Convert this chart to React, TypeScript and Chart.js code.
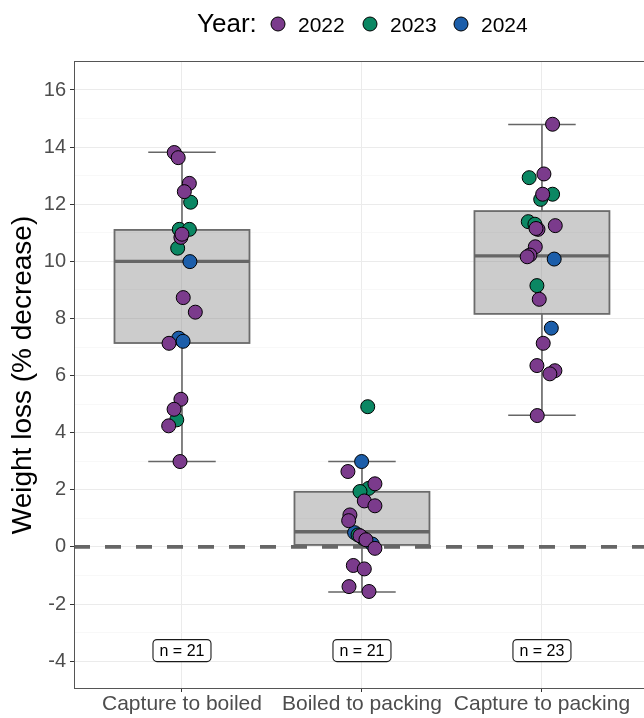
import React, { useEffect, useRef } from "react";
import { Chart, registerables } from "chart.js";

Chart.register(...registerables);

const categories = ["Capture to boiled", "Boiled to packing", "Capture to packing"];
const years = ["2022", "2023", "2024"];
const yearColors = ["#7B3B8C", "#0B8763", "#1C5EAA"];

const boxQ1 = [7.14, 0.07, 8.16];
const boxMedian = [10.0, 0.53, 10.19];
const boxQ3 = [11.1, 1.93, 11.76];
const whiskerLow = [2.99, -1.58, 4.61];
const whiskerHigh = [13.82, 2.99, 14.79];
const sampleSizes = [21, 21, 23];
const nLabelY = -3.63;

const yTickValues = [-4, -3, -2, -1, 0, 1, 2, 3, 4, 5, 6, 7, 8, 9, 10, 11, 12, 13, 14, 15, 16];

// jittered x positions (category index 1..3) and values
const x2022 = [
  0.957, 0.979, 1.041, 1.013, 0.994, 1.0, 1.007, 1.074, 0.928, 0.994, 0.956, 0.926, 0.989,
  1.922, 2.072, 2.013, 2.072, 1.933, 1.926, 1.989, 2.022, 2.072, 1.952, 2.013, 1.928, 2.039,
  3.059, 3.011, 3.004, 2.978, 3.074, 2.967, 2.963, 2.933, 2.918, 2.985, 3.007, 2.972, 3.072, 3.044, 2.974,
];
const y2022 = [
  13.81, 13.63, 12.73, 12.44, 10.84, 10.95, 8.73, 8.22, 7.13, 5.17, 4.82, 4.24, 2.99,
  2.64, 2.21, 1.61, 1.44, 1.12, 0.92, 0.39, 0.25, -0.05, -0.65, -0.77, -1.39, -1.56,
  14.8, 13.06, 12.35, 11.12, 11.25, 11.15, 10.51, 10.22, 10.16, 8.67, 7.13, 6.35, 6.17, 6.06, 4.6,
];
const x2023 = [
  1.048, 0.985, 1.041, 0.976, 0.971,
  2.032, 2.037, 1.989, 1.978, 2.007,
  2.929, 3.059, 2.993, 2.924, 2.961, 2.972,
];
const y2023 = [
  12.07, 11.12, 11.12, 10.46, 4.45,
  4.91, 2.05, 1.94, 0.42, 0.3,
  12.93, 12.35, 12.17, 11.39, 11.3, 9.15,
];
const x2024 = [1.044, 0.982, 1.006, 1.998, 1.959, 2.057, 3.068, 3.052];
const y2024 = [9.99, 7.31, 7.2, 2.99, 0.5, 0.1, 10.08, 7.66];

const xs = [x2022, x2023, x2024];
const ys = [y2022, y2023, y2024];

const FONT = "'Liberation Sans', Arial, Helvetica, sans-serif";

const boxPlugin = {
  id: "boxplotLayer",
  beforeDatasetsDraw(chart: any) {
    const { ctx, chartArea, scales } = chart;
    const x = scales.x;
    const y = scales.y;
    ctx.save();
    ctx.beginPath();
    ctx.rect(chartArea.left, chartArea.top, chartArea.right - chartArea.left, chartArea.bottom - chartArea.top);
    ctx.clip();
    categories.forEach((_, i) => {
      const c = i + 1;
      const cx = x.getPixelForValue(c);
      const xl = x.getPixelForValue(c - 0.375);
      const xr = x.getPixelForValue(c + 0.375);
      const capL = x.getPixelForValue(c - 0.1875);
      const capR = x.getPixelForValue(c + 0.1875);
      const yq1 = y.getPixelForValue(boxQ1[i]);
      const yq3 = y.getPixelForValue(boxQ3[i]);
      const ymed = y.getPixelForValue(boxMedian[i]);
      const ylo = y.getPixelForValue(whiskerLow[i]);
      const yhi = y.getPixelForValue(whiskerHigh[i]);
      ctx.strokeStyle = "#666666";
      ctx.lineWidth = 1.6;
      ctx.beginPath();
      ctx.moveTo(cx, yq3);
      ctx.lineTo(cx, yhi);
      ctx.moveTo(cx, yq1);
      ctx.lineTo(cx, ylo);
      ctx.moveTo(capL, yhi);
      ctx.lineTo(capR, yhi);
      ctx.moveTo(capL, ylo);
      ctx.lineTo(capR, ylo);
      ctx.stroke();
      ctx.fillStyle = "rgba(127,127,127,0.4)";
      ctx.fillRect(xl, yq3, xr - xl, yq1 - yq3);
      ctx.strokeStyle = "#6b6b6b";
      ctx.lineWidth = 1.8;
      ctx.strokeRect(xl, yq3, xr - xl, yq1 - yq3);
      ctx.strokeStyle = "#666666";
      ctx.lineWidth = 3.4;
      ctx.beginPath();
      ctx.moveTo(xl, ymed);
      ctx.lineTo(xr, ymed);
      ctx.stroke();
    });
    const y0 = y.getPixelForValue(0);
    ctx.strokeStyle = "#666666";
    ctx.lineWidth = 3.6;
    ctx.setLineDash([16, 15]);
    ctx.beginPath();
    ctx.moveTo(chartArea.left, y0);
    ctx.lineTo(chartArea.right + 10, y0);
    ctx.stroke();
    ctx.restore();
  },
  afterDatasetsDraw(chart: any) {
    const { ctx, chartArea, scales } = chart;
    const x = scales.x;
    const y = scales.y;
    ctx.save();
    ctx.font = `16px ${FONT}`;
    ctx.textAlign = "center";
    ctx.textBaseline = "middle";
    sampleSizes.forEach((n, i) => {
      const cx = x.getPixelForValue(i + 1);
      const cy = y.getPixelForValue(nLabelY);
      const w = 58;
      const h = 22;
      const l = cx - w / 2;
      const t = cy - h / 2;
      ctx.beginPath();
      if ((ctx as any).roundRect) (ctx as any).roundRect(l, t, w, h, 4);
      else ctx.rect(l, t, w, h);
      ctx.fillStyle = "#ffffff";
      ctx.fill();
      ctx.strokeStyle = "#1a1a1a";
      ctx.lineWidth = 1.1;
      ctx.stroke();
      ctx.fillStyle = "#000000";
      ctx.fillText(`n = ${n}`, cx, cy + 1);
    });
    // panel border
    ctx.strokeStyle = "#555555";
    ctx.lineWidth = 1;
    ctx.strokeRect(
      Math.round(chartArea.left) + 0.5,
      Math.round(chartArea.top) - 0.5,
      chartArea.right - chartArea.left + 20,
      Math.round(chartArea.bottom) - Math.round(chartArea.top) + 1
    );
    ctx.restore();
  },
  afterDraw(chart: any) {
    const { ctx } = chart;
    ctx.save();
    ctx.fillStyle = "#000000";
    ctx.textBaseline = "alphabetic";
    ctx.textAlign = "left";
    ctx.font = `26px ${FONT}`;
    ctx.fillText("Year:", 197, 32);
    const circleX = [278, 370, 461];
    const textX = [298, 390, 481];
    years.forEach((yr, i) => {
      ctx.beginPath();
      ctx.arc(circleX[i], 24, 7, 0, Math.PI * 2);
      ctx.fillStyle = yearColors[i];
      ctx.fill();
      ctx.strokeStyle = "#000000";
      ctx.lineWidth = 1;
      ctx.stroke();
      ctx.fillStyle = "#000000";
      ctx.font = `21px ${FONT}`;
      ctx.fillText(yr, textX[i], 32);
    });
    ctx.restore();
  },
};

export default function App() {
  const canvasRef = useRef<HTMLCanvasElement | null>(null);

  useEffect(() => {
    document.body.style.margin = "0";
    const canvas = canvasRef.current;
    if (!canvas) return;
    Chart.defaults.font.family = FONT;
    const isEven = (v: number) => Math.abs(Math.round(v)) % 2 === 0;
    const chart = new Chart(canvas, {
      type: "scatter",
      data: {
        datasets: years.map((yr, k) => ({
          label: yr,
          data: xs[k].map((xv, j) => ({ x: xv, y: ys[k][j] })),
          backgroundColor: yearColors[k],
          borderColor: "#000000",
          borderWidth: 1,
          pointRadius: 7,
          pointHoverRadius: 7,
          clip: false,
        })),
      },
      options: {
        responsive: false,
        animation: false,
        events: [],
        layout: { autoPadding: false, padding: { top: 62, left: 0, right: 0, bottom: 0 } },
        plugins: {
          legend: { display: false },
          tooltip: { enabled: false },
          title: { display: false },
        },
        scales: {
          x: {
            type: "linear",
            min: 0.4,
            max: 3.567,
            afterBuildTicks: (s: any) => {
              s.ticks = categories.map((_, i) => ({ value: i + 1 }));
            },
            afterFit: (s: any) => {
              s.height = 30;
              s.paddingLeft = 0;
              s.paddingRight = 0;
            },
            ticks: {
              callback: (v: any) => categories[Math.round(Number(v)) - 1] ?? "",
              font: { size: 21, family: FONT },
              color: "#4D4D4D",
              padding: 0,
              maxRotation: 0,
              minRotation: 0,
              autoSkip: false,
            },
            grid: {
              color: "#EBEBEB",
              lineWidth: 1,
              tickLength: 4,
              tickColor: "#333333",
              tickWidth: 1,
            },
            border: { display: false },
          },
          y: {
            type: "linear",
            min: -4.94,
            max: 16.98,
            afterBuildTicks: (s: any) => {
              s.ticks = yTickValues.map((v) => ({ value: v }));
            },
            afterFit: (s: any) => {
              s.width = 74;
              s.paddingTop = 0;
              s.paddingBottom = 0;
            },
            ticks: {
              callback: (v: any) => (isEven(Number(v)) ? String(v) : ""),
              font: { size: 20, family: FONT },
              color: "#4D4D4D",
              padding: 4,
              autoSkip: false,
            },
            grid: {
              color: (c: any) => (c.tick && isEven(c.tick.value) ? "#EBEBEB" : "#F5F5F5"),
              lineWidth: (c: any) => (c.tick && isEven(c.tick.value) ? 1 : 0.7),
              tickLength: 4,
              tickColor: (c: any) => (c.tick && isEven(c.tick.value) ? "#333333" : "rgba(0,0,0,0)"),
              tickWidth: 1,
            },
            border: { display: false },
            title: {
              display: true,
              text: "Weight loss (% decrease)",
              font: { size: 28, family: FONT },
              color: "#000000",
              padding: { top: 6.5, bottom: 0 },
            },
          },
        },
      },
      plugins: [boxPlugin],
    } as any);
    return () => chart.destroy();
  }, []);

  return (
    <div style={{ width: 644, height: 718, position: "relative", background: "#ffffff" }}>
      <canvas ref={canvasRef} width={644} height={718} style={{ display: "block" }} />
    </div>
  );
}
